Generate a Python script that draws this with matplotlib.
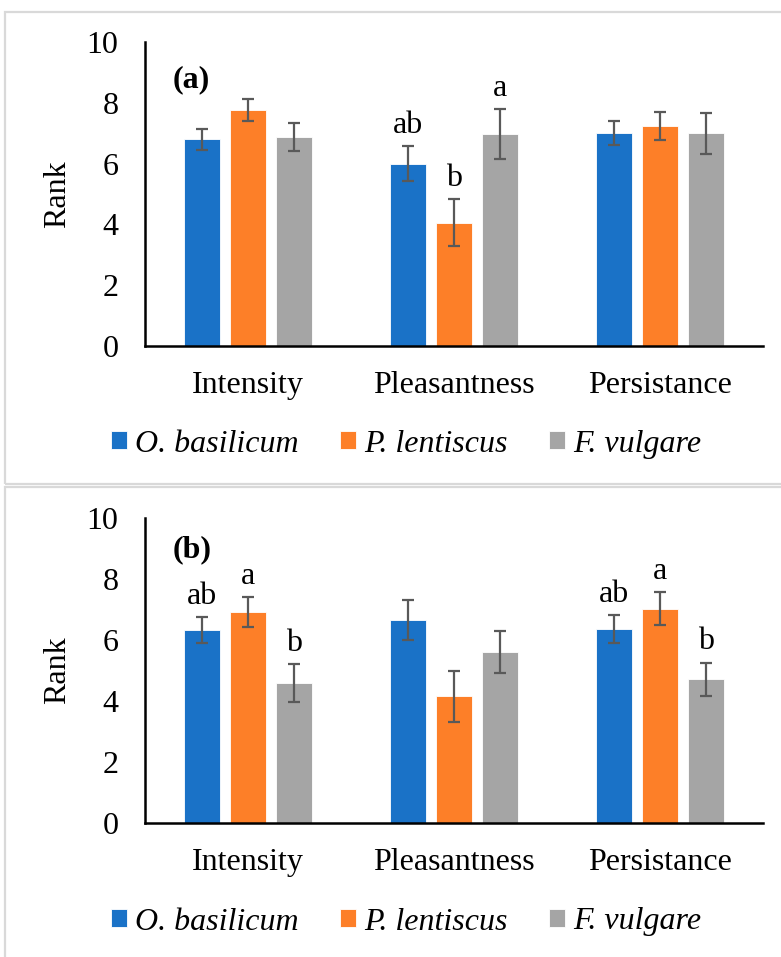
import matplotlib.pyplot as plt
import matplotlib.patches as mpatches
import numpy as np

categories = ["Intensity", "Pleasantness", "Persistance"]
species = ["O. basilicum", "P. lentiscus", "F. vulgare"]
colors = ["#1A72C7", "#FD7F28", "#A5A5A5"]

# panel (a)
a_means = [[6.80, 6.00, 7.00],
           [7.76, 4.05, 7.23],
           [6.86, 6.97, 7.00]]
a_err = [[0.34, 0.58, 0.39],
         [0.35, 0.77, 0.46],
         [0.46, 0.83, 0.68]]
a_letters = [["", "ab", ""],
             ["", "b", ""],
             ["", "a", ""]]

# panel (b)
b_means = [[6.31, 6.65, 6.35],
           [6.90, 4.15, 7.02],
           [4.58, 5.61, 4.70]]
b_err = [[0.42, 0.66, 0.45],
         [0.49, 0.84, 0.55],
         [0.61, 0.69, 0.55]]
b_letters = [["ab", "", "ab"],
             ["a", "", "a"],
             ["b", "", "b"]]

plt.rcParams['font.family'] = ['Liberation Serif', 'DejaVu Serif']
fs = 23

fig = plt.figure(figsize=(7.81, 9.57), dpi=100)

# light grey chart frames
fig.patches.append(mpatches.Rectangle((5 / 781, 1 - 484 / 957), 0.999, 472 / 957, transform=fig.transFigure,
                                      fill=False, edgecolor="#D9D9D9", linewidth=1.6))
fig.patches.append(mpatches.Rectangle((5 / 781, -0.01), 0.999, 1 - 487 / 957 + 0.01, transform=fig.transFigure,
                                      fill=False, edgecolor="#D9D9D9", linewidth=1.6))

ax_a = fig.add_axes([145 / 781, 1 - 346 / 957, 618 / 781, 304 / 957])
ax_b = fig.add_axes([145 / 781, 1 - 822.7 / 957, 618 / 781, 305 / 957])

x = np.arange(len(categories))
width = 0.175
step = 0.223

for ax, means, errs, letters, tag, tag_y in [(ax_a, a_means, a_err, a_letters, "(a)", 8.75),
                                             (ax_b, b_means, b_err, b_letters, "(b)", 8.94)]:
    for i in range(len(species)):
        pos = x + (i - 1) * step
        ax.bar(pos, means[i], width, color=colors[i], edgecolor="white", linewidth=0.6,
               label=species[i], zorder=2)
        ax.errorbar(pos, means[i], yerr=errs[i], fmt='none', ecolor="#595959", elinewidth=1.6,
                    capsize=4.5, capthick=1.6, zorder=3)
        for j in range(len(categories)):
            if letters[i][j]:
                ax.text(pos[j], means[i][j] + errs[i][j] + 0.2, letters[i][j], ha='center',
                        va='bottom', fontsize=fs)
    ax.text(-0.365, tag_y, tag, fontsize=fs, fontweight='bold', ha='left', va='center')
    ax.set_xlim(-0.5, 2.5)
    ax.set_ylim(0, 10)
    ax.set_yticks([0, 2, 4, 6, 8, 10])
    ax.set_xticks(x)
    ax.set_xticklabels(categories)
    ax.tick_params(axis='both', length=0, labelsize=fs)
    ax.tick_params(axis='y', pad=19)
    ax.tick_params(axis='x', pad=18)
    ax.spines['top'].set_visible(False)
    ax.spines['right'].set_visible(False)
    ax.spines['left'].set_linewidth(1.8)
    ax.spines['bottom'].set_linewidth(1.8)
    ax.set_ylabel("Rank", fontsize=fs)
    ax.yaxis.set_label_coords(-0.118, 0.5)

for ax, ly in [(ax_a, 1 - 444 / 957), (ax_b, 1 - 922 / 957)]:
    h, l = ax.get_legend_handles_labels()
    fig.legend(h, l, loc='center', bbox_to_anchor=(406 / 781, ly), ncol=3, frameon=False,
               prop={'family': 'Liberation Serif', 'style': 'italic', 'size': fs},
               handlelength=0.5, handleheight=0.5, handletextpad=0.25, columnspacing=1.3)

fig.savefig("out.png", dpi=100)
